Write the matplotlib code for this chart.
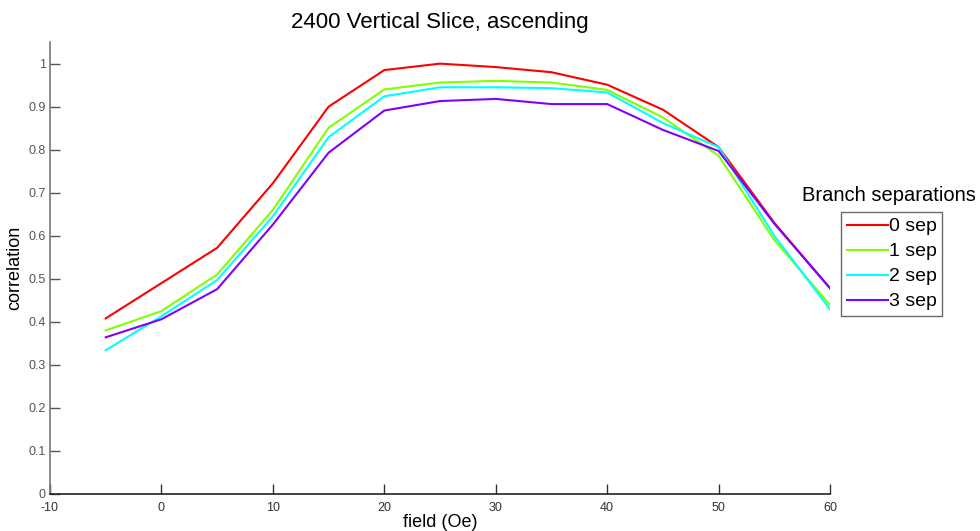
import matplotlib
matplotlib.use("Agg")
import matplotlib.pyplot as plt

plt.rcParams['font.family'] = ['Liberation Sans', 'DejaVu Sans']

field = [-5, 0, 5, 10, 15, 20, 25, 30, 35, 40, 45, 50, 55, 60]
sep0 = [0.408, 0.490, 0.572, 0.722, 0.900, 0.985, 1.000, 0.992, 0.980, 0.951, 0.893, 0.806, 0.630, 0.478]
sep1 = [0.380, 0.425, 0.510, 0.660, 0.851, 0.940, 0.956, 0.960, 0.956, 0.939, 0.875, 0.786, 0.590, 0.439]
sep2 = [0.334, 0.413, 0.497, 0.645, 0.829, 0.924, 0.945, 0.945, 0.943, 0.933, 0.862, 0.806, 0.600, 0.429]
sep3 = [0.364, 0.406, 0.476, 0.626, 0.793, 0.891, 0.913, 0.918, 0.906, 0.906, 0.846, 0.797, 0.628, 0.478]
labels = ['0 sep', '1 sep', '2 sep', '3 sep']
colors = ['#ff0000', '#80ff00', '#00ffff', '#8000ff']
xticks = [-10, 0, 10, 20, 30, 40, 50, 60]
xticklabels = ['-10', '0', '10', '20', '30', '40', '50', '60']
yticks = [0, 0.1, 0.2, 0.3, 0.4, 0.5, 0.6, 0.7, 0.8, 0.9, 1.0]
yticklabels = ['0', '0.1', '0.2', '0.3', '0.4', '0.5', '0.6', '0.7', '0.8', '0.9', '1']

fig = plt.figure(figsize=(9.8, 5.31), dpi=100)
ax = fig.add_axes([0.051, 0.0697, 0.796, 0.851])

lines = []
for ys, c, lab in zip([sep0, sep1, sep2, sep3], colors, labels):
    ln, = ax.plot(field, ys, color=c, lw=1.5, label=lab)
    lines.append(ln)

ax.set_xlim(-10, 60)
ax.set_ylim(0, 1.05)
ax.set_xticks(xticks)
ax.set_xticklabels(xticklabels)
ax.set_yticks(yticks)
ax.set_yticklabels(yticklabels)
ax.tick_params(direction='in', length=7, width=1, labelsize=9, colors='#333333', pad=3)
ax.tick_params(axis='x', pad=6)
ax.tick_params(axis='y', colors='#555555')
for s in ['top', 'right']:
    ax.spines[s].set_visible(False)
ax.spines['left'].set_color('#777777')
ax.spines['bottom'].set_color('#222222')
ax.spines['left'].set_linewidth(1.2)
ax.spines['bottom'].set_linewidth(1.2)

ax.set_title('2400 Vertical Slice, ascending', fontsize=16, pad=10)
ax.set_xlabel('field (Oe)', fontsize=13, labelpad=0)
ax.set_ylabel('correlation', fontsize=13, labelpad=4)

leg = fig.legend(handles=lines, loc='upper left', bbox_to_anchor=(841 / 980, 1 - 212 / 531),
                 fontsize=14, frameon=True, fancybox=False, handlelength=2.1,
                 handletextpad=0.05, labelspacing=0.38, borderpad=0.3, borderaxespad=0)
leg.get_frame().set_edgecolor('#444444')
leg.get_frame().set_linewidth(1.0)
fig.text(889 / 980, 1 - 195 / 531, 'Branch separations', ha='center', va='center', fontsize=14.5)

fig.savefig('out.png', dpi=100, facecolor='white')
